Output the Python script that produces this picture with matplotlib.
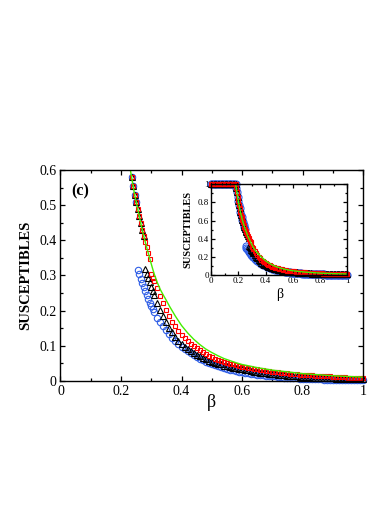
import numpy as np
import matplotlib
matplotlib.use("Agg")
import matplotlib.pyplot as plt
from matplotlib.ticker import MultipleLocator, FuncFormatter

plt.rcParams['font.family'] = ['Liberation Serif', 'DejaVu Serif']

# ---- data ----
# plateau part (all runs sit at 1)
beta_flat = [0.00, 0.01, 0.02, 0.03, 0.04, 0.05, 0.06, 0.07, 0.08, 0.09,
             0.10, 0.11, 0.12, 0.13, 0.14, 0.15, 0.16, 0.17, 0.18]
s_flat = [1.0, 1.0, 1.0, 1.0, 1.0, 1.0, 1.0, 1.0, 1.0, 1.0,
          1.0, 1.0, 1.0, 1.0, 1.0, 1.0, 1.0, 1.0, 1.0]

# steep drop
beta_steep = [0.185, 0.190, 0.195, 0.200, 0.205, 0.210, 0.215, 0.220, 0.225,
              0.230, 0.235, 0.240, 0.245, 0.250, 0.255, 0.260, 0.265, 0.270,
              0.275, 0.280, 0.285, 0.290, 0.295, 0.300, 0.305, 0.310]
s_steep_upper = [0.96, 0.91, 0.86, 0.815, 0.775, 0.735, 0.70, 0.665, 0.635,
                 0.605, 0.58, 0.555, 0.53, 0.51, 0.49, 0.47, 0.45, 0.43,
                 0.413, 0.396, 0.38, 0.364, 0.348, 0.333, 0.318, 0.304]
blue_steep = [0.96, 0.91, 0.86, 0.815, 0.775, 0.735, 0.70, 0.665, 0.635,
              0.605, 0.58, 0.555, 0.53, 0.51, 0.315, 0.303, 0.29, 0.278,
              0.266, 0.255, 0.244, 0.233, 0.223, 0.213, 0.204, 0.195]
black_steep = [0.96, 0.91, 0.86, 0.815, 0.775, 0.735, 0.70, 0.665, 0.635,
               0.605, 0.58, 0.555, 0.53, 0.51, 0.49, 0.47, 0.45, 0.43,
               0.413, 0.318, 0.305, 0.293, 0.281, 0.268, 0.256, 0.245]
red_steep = [0.96, 0.91, 0.86, 0.815, 0.775, 0.735, 0.70, 0.665, 0.635,
             0.605, 0.58, 0.555, 0.53, 0.51, 0.49, 0.47, 0.45, 0.43,
             0.413, 0.396, 0.38, 0.364, 0.348, 0.305, 0.294, 0.284]

# slow tail
beta_tail = [0.32, 0.33, 0.34, 0.35, 0.36, 0.37, 0.38, 0.39, 0.40, 0.41,
             0.42, 0.43, 0.44, 0.45, 0.46, 0.47, 0.48, 0.49, 0.50, 0.51,
             0.52, 0.53, 0.54, 0.55, 0.56, 0.57, 0.58, 0.59, 0.60, 0.61,
             0.62, 0.63, 0.64, 0.65, 0.66, 0.67, 0.68, 0.69, 0.70, 0.71,
             0.72, 0.73, 0.74, 0.75, 0.76, 0.77, 0.78, 0.79, 0.80, 0.81,
             0.82, 0.83, 0.84, 0.85, 0.86, 0.87, 0.88, 0.89, 0.90, 0.91,
             0.92, 0.93, 0.94, 0.95, 0.96, 0.97, 0.98, 0.99, 1.00]
blue_tail = [0.18, 0.167, 0.155, 0.144, 0.133, 0.123, 0.114, 0.106, 0.098, 0.091,
             0.085, 0.079, 0.073, 0.068, 0.063, 0.059, 0.055, 0.051, 0.048, 0.045,
             0.042, 0.039, 0.037, 0.034, 0.032, 0.030, 0.028, 0.026, 0.025, 0.023,
             0.022, 0.021, 0.019, 0.018, 0.017, 0.016, 0.015, 0.014, 0.013, 0.013,
             0.012, 0.011, 0.010, 0.010, 0.009, 0.008, 0.008, 0.007, 0.007, 0.006,
             0.006, 0.006, 0.005, 0.005, 0.005, 0.004, 0.004, 0.004, 0.004, 0.003,
             0.003, 0.003, 0.003, 0.003, 0.002, 0.002, 0.002, 0.002, 0.002]
black_tail = [0.223, 0.203, 0.185, 0.168, 0.152, 0.138, 0.126, 0.115, 0.106, 0.098,
              0.091, 0.085, 0.079, 0.074, 0.070, 0.066, 0.062, 0.058, 0.055, 0.052,
              0.049, 0.047, 0.044, 0.042, 0.040, 0.038, 0.036, 0.034, 0.033, 0.031,
              0.030, 0.028, 0.027, 0.026, 0.024, 0.023, 0.022, 0.021, 0.020, 0.019,
              0.018, 0.017, 0.016, 0.015, 0.014, 0.014, 0.013, 0.012, 0.012, 0.011,
              0.011, 0.010, 0.010, 0.009, 0.009, 0.009, 0.008, 0.008, 0.008, 0.007,
              0.007, 0.007, 0.007, 0.006, 0.006, 0.006, 0.006, 0.006, 0.006]
red_tail = [0.264, 0.243, 0.222, 0.203, 0.185, 0.169, 0.155, 0.143, 0.132, 0.122,
            0.114, 0.106, 0.099, 0.093, 0.087, 0.082, 0.077, 0.072, 0.068, 0.064,
            0.061, 0.058, 0.055, 0.052, 0.049, 0.047, 0.045, 0.043, 0.041, 0.039,
            0.037, 0.036, 0.034, 0.033, 0.032, 0.030, 0.029, 0.028, 0.027, 0.026,
            0.025, 0.024, 0.023, 0.022, 0.021, 0.020, 0.019, 0.018, 0.018, 0.017,
            0.016, 0.016, 0.015, 0.015, 0.014, 0.014, 0.013, 0.013, 0.012, 0.012,
            0.011, 0.011, 0.011, 0.010, 0.010, 0.010, 0.009, 0.009, 0.009]

# green curve (solid line)
green_tail_beta = [0.32, 0.33, 0.34, 0.35, 0.36, 0.38, 0.40, 0.42, 0.44, 0.46,
                   0.48, 0.50, 0.52, 0.54, 0.56, 0.58, 0.60, 0.65, 0.70, 0.75,
                   0.80, 0.85, 0.90, 0.95, 1.00]
green_tail_s = [0.28, 0.26, 0.244, 0.229, 0.213, 0.184, 0.158, 0.137, 0.119, 0.104,
                0.091, 0.081, 0.072, 0.064, 0.058, 0.052, 0.047, 0.038, 0.031, 0.026,
                0.021, 0.018, 0.015, 0.013, 0.011]

beta_all = np.array(beta_flat + beta_steep + beta_tail)
blue_s = np.array(s_flat + blue_steep + blue_tail)
black_s = np.array(s_flat + black_steep + black_tail)
red_s = np.array(s_flat + red_steep + red_tail)
green_beta = np.array(beta_flat + beta_steep + green_tail_beta)
green_s = np.array(s_flat + s_steep_upper + green_tail_s)

BLUE = '#2f5ee6'
GREEN = '#44ee00'

fmt = FuncFormatter(lambda v, p: '%g' % round(v, 3))


def draw_curves(ax, ymax, scale=1.0):
    m = blue_s <= ymax
    ax.plot(beta_all[m], blue_s[m], 'o', ms=4.6 * scale, mfc='none', mec=BLUE, mew=0.8, clip_on=False)
    m = black_s <= ymax
    ax.plot(beta_all[m], black_s[m], '^', ms=3.8 * scale, mfc='none', mec='black', mew=0.8, clip_on=False)
    m = red_s <= ymax
    ax.plot(beta_all[m], red_s[m], 's', ms=3.0 * scale, mfc='none', mec='red', mew=0.8, clip_on=False)
    ax.plot(green_beta, green_s, '-', color=GREEN, lw=1.0)


def style_axes(ax, ymaj, ymin, size, pad, maj_len, min_len):
    ax.xaxis.set_major_locator(MultipleLocator(0.2))
    ax.xaxis.set_minor_locator(MultipleLocator(0.1))
    ax.yaxis.set_major_locator(MultipleLocator(ymaj))
    ax.yaxis.set_minor_locator(MultipleLocator(ymin))
    ax.xaxis.set_major_formatter(fmt)
    ax.yaxis.set_major_formatter(fmt)
    ax.tick_params(which='both', direction='in', top=True, right=True, width=0.9)
    ax.tick_params(which='major', length=maj_len, labelsize=size, pad=pad)
    ax.tick_params(which='minor', length=min_len)
    for sp in ax.spines.values():
        sp.set_linewidth(1.0)


fig = plt.figure(figsize=(3.9, 5.05), dpi=100)

# main panel
ax = fig.add_axes([0.155, 0.2455, 0.776, 0.418])
draw_curves(ax, 0.6)
ax.set_xlim(0, 1)
ax.set_ylim(0, 0.6)
style_axes(ax, 0.1, 0.05, 10, 3.0, 3.6, 2.0)
ax.set_xlabel('β', fontsize=13)
ax.xaxis.set_label_coords(0.5, -0.062)
ax.set_ylabel('SUSCEPTIBLES', fontsize=10.5, fontweight='bold')
ax.yaxis.set_label_coords(-0.092, 0.5)
ax.text(0.037, 0.90, '(c)', transform=ax.transAxes, fontsize=11.5,
        fontweight='bold', ha='left', va='center')

# inset
axi = fig.add_axes([0.541, 0.4554, 0.35, 0.1796])
draw_curves(axi, 1.0, 1.1)
axi.set_xlim(0, 1)
axi.set_ylim(0, 1)
style_axes(axi, 0.2, 0.1, 6.5, 1.5, 3.0, 1.7)
axi.set_xlabel('β', fontsize=10)
axi.xaxis.set_label_coords(0.5, -0.14)
axi.set_ylabel('SUSCEPTIBLES', fontsize=7.5, fontweight='bold')
axi.yaxis.set_label_coords(-0.135, 0.5)

fig.savefig('out.png', dpi=100)
